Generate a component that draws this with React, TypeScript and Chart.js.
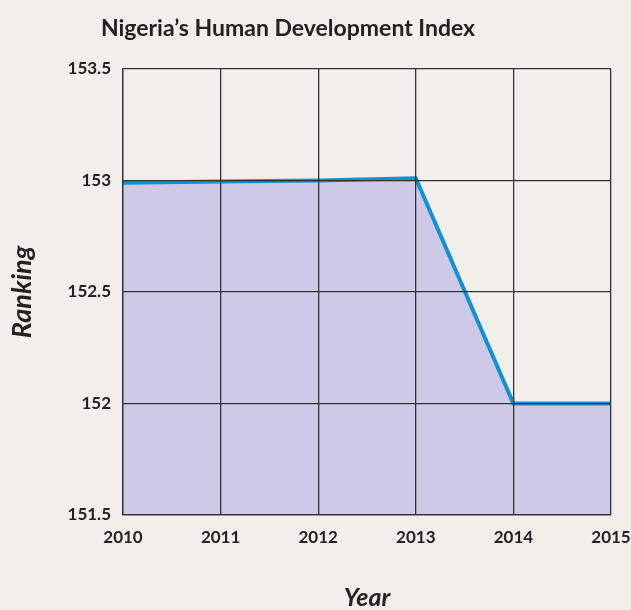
import React, { useEffect, useRef } from "react";
import { Chart, registerables } from "chart.js";

Chart.register(...registerables);

const years = [2010, 2011, 2012, 2013, 2014, 2015];
const ranking = [152.99, 152.995, 153.0, 153.01, 152.0, 152.0];
const yTicks = [151.5, 152, 152.5, 153, 153.5];
const titleText = "Nigeria\u2019s Human Development Index";
const xTitle = "Year";
const yTitle = "Ranking";

const BG = "#F2EFEA";
const FONT = "Lato, 'Open Sans', 'DejaVu Sans', sans-serif";

const bgPlugin = {
  id: "bg",
  beforeDraw(chart: any) {
    const { ctx, width, height } = chart;
    ctx.save();
    ctx.fillStyle = BG;
    ctx.fillRect(0, 0, width, height);
    ctx.restore();
  },
};

const titlePlugin = {
  id: "customTitle",
  afterDraw(chart: any) {
    const { ctx } = chart;
    ctx.save();
    ctx.fillStyle = "#222";
    ctx.font = `bold 23px ${FONT}`;
    ctx.textAlign = "center";
    ctx.textBaseline = "middle";
    ctx.fillText(titleText, 288, 29);
    ctx.restore();
  },
};

export default function App() {
  const ref = useRef<HTMLCanvasElement | null>(null);
  useEffect(() => {
    document.body.style.margin = "0";
    document.body.style.background = BG;
    const chart = new Chart(ref.current as HTMLCanvasElement, {
      type: "line",
      data: {
        datasets: [
          {
            data: years.map((x, i) => ({ x, y: ranking[i] })),
            borderColor: "#1590D4",
            borderWidth: 4,
            backgroundColor: "#CDC9E6",
            fill: "start",
            pointRadius: 0,
            tension: 0,
          },
        ],
      },
      options: {
        animation: false,
        responsive: false,
        layout: { padding: { left: 0, right: 0, top: 69, bottom: 0 } },
        plugins: {
          legend: { display: false },
          tooltip: { enabled: false },
          title: { display: false },
        },
        scales: {
          x: {
            type: "linear",
            min: 2010,
            max: 2015,
            ticks: {
              stepSize: 1,
              color: "#222",
              font: { family: FONT, size: 17, weight: "bold" },
              padding: 12,
              maxRotation: 0,
              callback: (v: any) => String(v),
            },
            grid: { color: "#333", lineWidth: 1.3, drawTicks: false, z: 1 },
            border: { color: "#333", width: 1.3, z: 1 },
            title: {
              display: true,
              text: xTitle,
              color: "#222",
              font: { family: FONT, size: 25, weight: "bold", style: "italic" },
              padding: { top: 30, bottom: -3 },
            },
            afterFit: (s: any) => {
              s.height = 95;
              s.paddingRight = 20;
              s.paddingLeft = 0;
            },
          },
          y: {
            min: 151.5,
            max: 153.5,
            afterBuildTicks: (s: any) => {
              s.ticks = yTicks.map((value) => ({ value }));
            },
            ticks: {
              color: "#222",
              font: { family: FONT, size: 17, weight: "bold" },
              padding: 12,
              callback: (v: any) => String(v),
            },
            grid: { color: "#333", lineWidth: 1.3, drawTicks: false, z: 1 },
            border: { color: "#333", width: 1.3, z: 1 },
            title: {
              display: true,
              text: yTitle,
              color: "#222",
              font: { family: FONT, size: 27, weight: "bold", style: "italic" },
              padding: { top: 6, bottom: 20 },
            },
            afterFit: (s: any) => {
              s.width = 123;
              s.paddingTop = 0;
              s.paddingBottom = 0;
            },
          },
        },
      },
      plugins: [bgPlugin, titlePlugin],
    });
    return () => chart.destroy();
  }, []);
  return (
    <div style={{ width: 631, height: 610, background: BG }}>
      <canvas ref={ref} width={631} height={610} />
    </div>
  );
}
